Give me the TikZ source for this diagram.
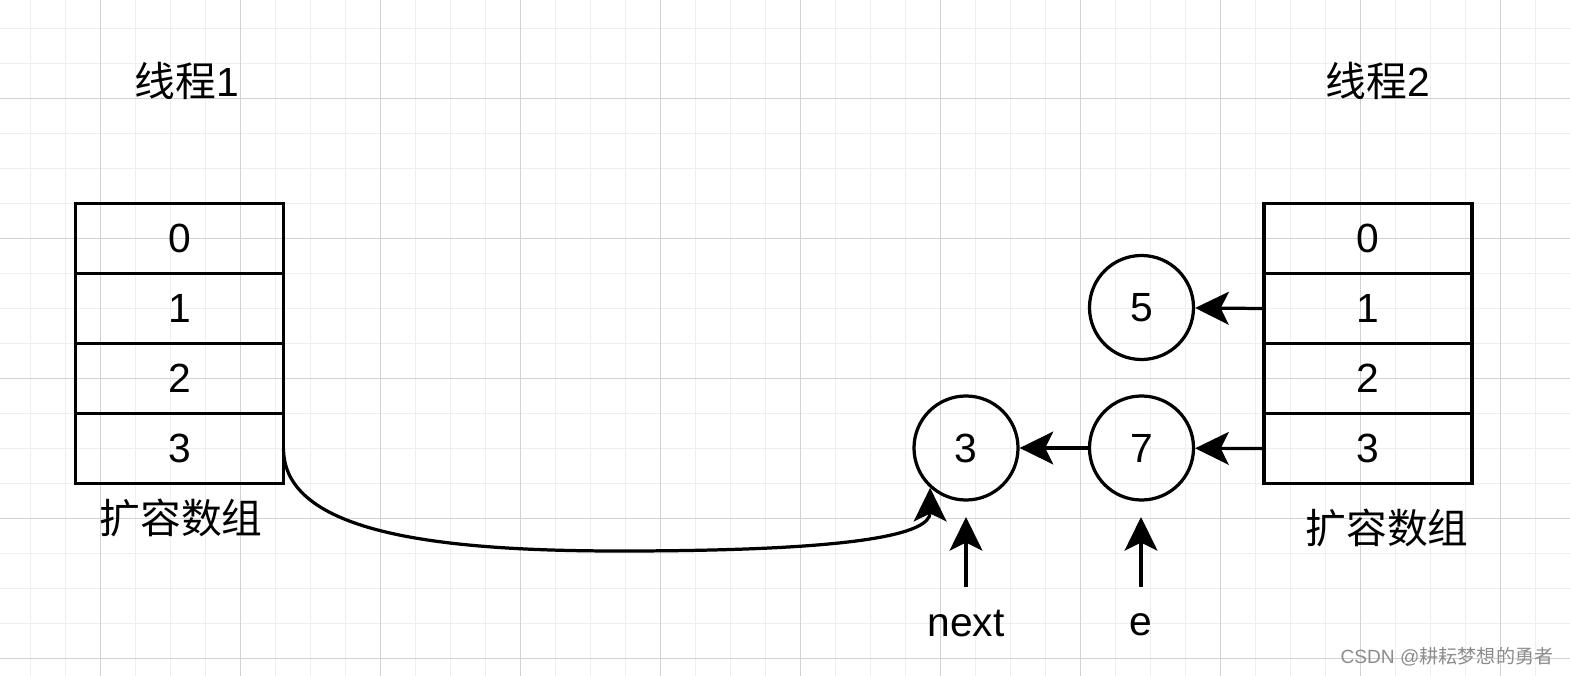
\documentclass[tikz,border=0pt]{standalone}
\usepackage{fontspec}
\setmainfont{Liberation Sans}
\newfontfamily\cjk{Noto Sans CJK SC}
\usetikzlibrary{positioning,arrows.meta}

\definecolor{gridmajor}{HTML}{D2D2D2}
\definecolor{gridminor}{HTML}{EFEFEF}
\definecolor{markgray}{HTML}{8C8C8C}
\newcommand{\diagfont}{\fontsize{29}{34}\selectfont}

\begin{document}
\begin{tikzpicture}[x=0.025cm, y=-0.025cm,
    cell/.style={draw, line width=2.3pt, minimum width=5.2cm, minimum height=1.75cm,
        outer sep=0pt, inner sep=0pt, font=\diagfont},
    knot/.style={circle, draw, line width=2.3pt, minimum size=2.6cm, inner sep=0pt, font=\diagfont},
    link/.style={line width=2.3pt, -{Stealth[length=0.84cm, width=0.82cm, inset=0.2cm]}},
    caption/.style={font=\diagfont, inner sep=0pt}]
    % Hintergrund mit Raster:
    \fill[white] (0,0) rectangle (1570,676);
    \useasboundingbox (0,0) rectangle (1570,676);
    \foreach \gx in {30,65,...,1570}
        \draw[gridminor, line width=0.7pt] (\gx,0) -- (\gx,676);
    \foreach \gy in {28,63,...,676}
        \draw[gridminor, line width=0.7pt] (0,\gy) -- (1570,\gy);
    \foreach \gx in {100,240,...,1570}
        \draw[gridmajor, line width=0.7pt] (\gx,0) -- (\gx,676);
    \foreach \gy in {98,238,...,676}
        \draw[gridmajor, line width=0.7pt] (0,\gy) -- (1570,\gy);

    % Thread 1:
    \node[caption] (t1) at (187,81) {{\cjk 线程}1};
    \node[cell] (L0) at (179.5,238.5) {0};
    \node[cell, below=0pt of L0] (L1) {1};
    \node[cell, below=0pt of L1] (L2) {2};
    \node[cell, below=0pt of L2] (L3) {3};
    \node[caption] (a1) at (181,518) {\cjk 扩容数组};

    % Thread 2:
    \node[caption] (t2) at (1378,81) {{\cjk 线程}2};
    \node[cell] (R0) at (1368,238.5) {0};
    \node[cell, below=0pt of R0] (R1) {1};
    \node[cell, below=0pt of R1] (R2) {2};
    \node[cell, below=0pt of R2] (R3) {3};
    \node[caption] (a2) at (1387,528) {\cjk 扩容数组};

    % Knoten der Liste:
    \node[knot] (C5) at (1141.5,307.5) {5};
    \node[knot] (C7) at (1141.5,448) {7};
    \node[knot] (C3) at (966,448) {3};

    \draw[link] (R1.west) -- (C5);
    \draw[link] (R3.west) -- (C7);
    \draw[link] (C7) -- (C3);

    % Bogen vom alten Array:
    \coordinate (dip) at (620,551);
    \draw[link] (L3.east) .. controls +(0,85) and +(-180,0) .. (dip)
        .. controls +(240,0) and +(0,46) .. (C3.-132);

    % Zeiger next und e:
    \node[caption] (nextlbl) at (966,624) {next};
    \node[caption] (elbl) at (1141,625) {e};
    \coordinate (nexttail) at (966,587);
    \coordinate (nexthead) at (966,517);
    \coordinate (etail) at (1141,587);
    \coordinate (ehead) at (1141,517);
    \draw[link] (nexttail) -- (nexthead);
    \draw[link] (etail) -- (ehead);

    \node[text=markgray, font=\fontsize{13.6}{16}\selectfont, inner sep=0pt] (mark) at (1447,657)
        {CSDN @{\cjk 耕耘梦想的勇者}};
\end{tikzpicture}
\end{document}
